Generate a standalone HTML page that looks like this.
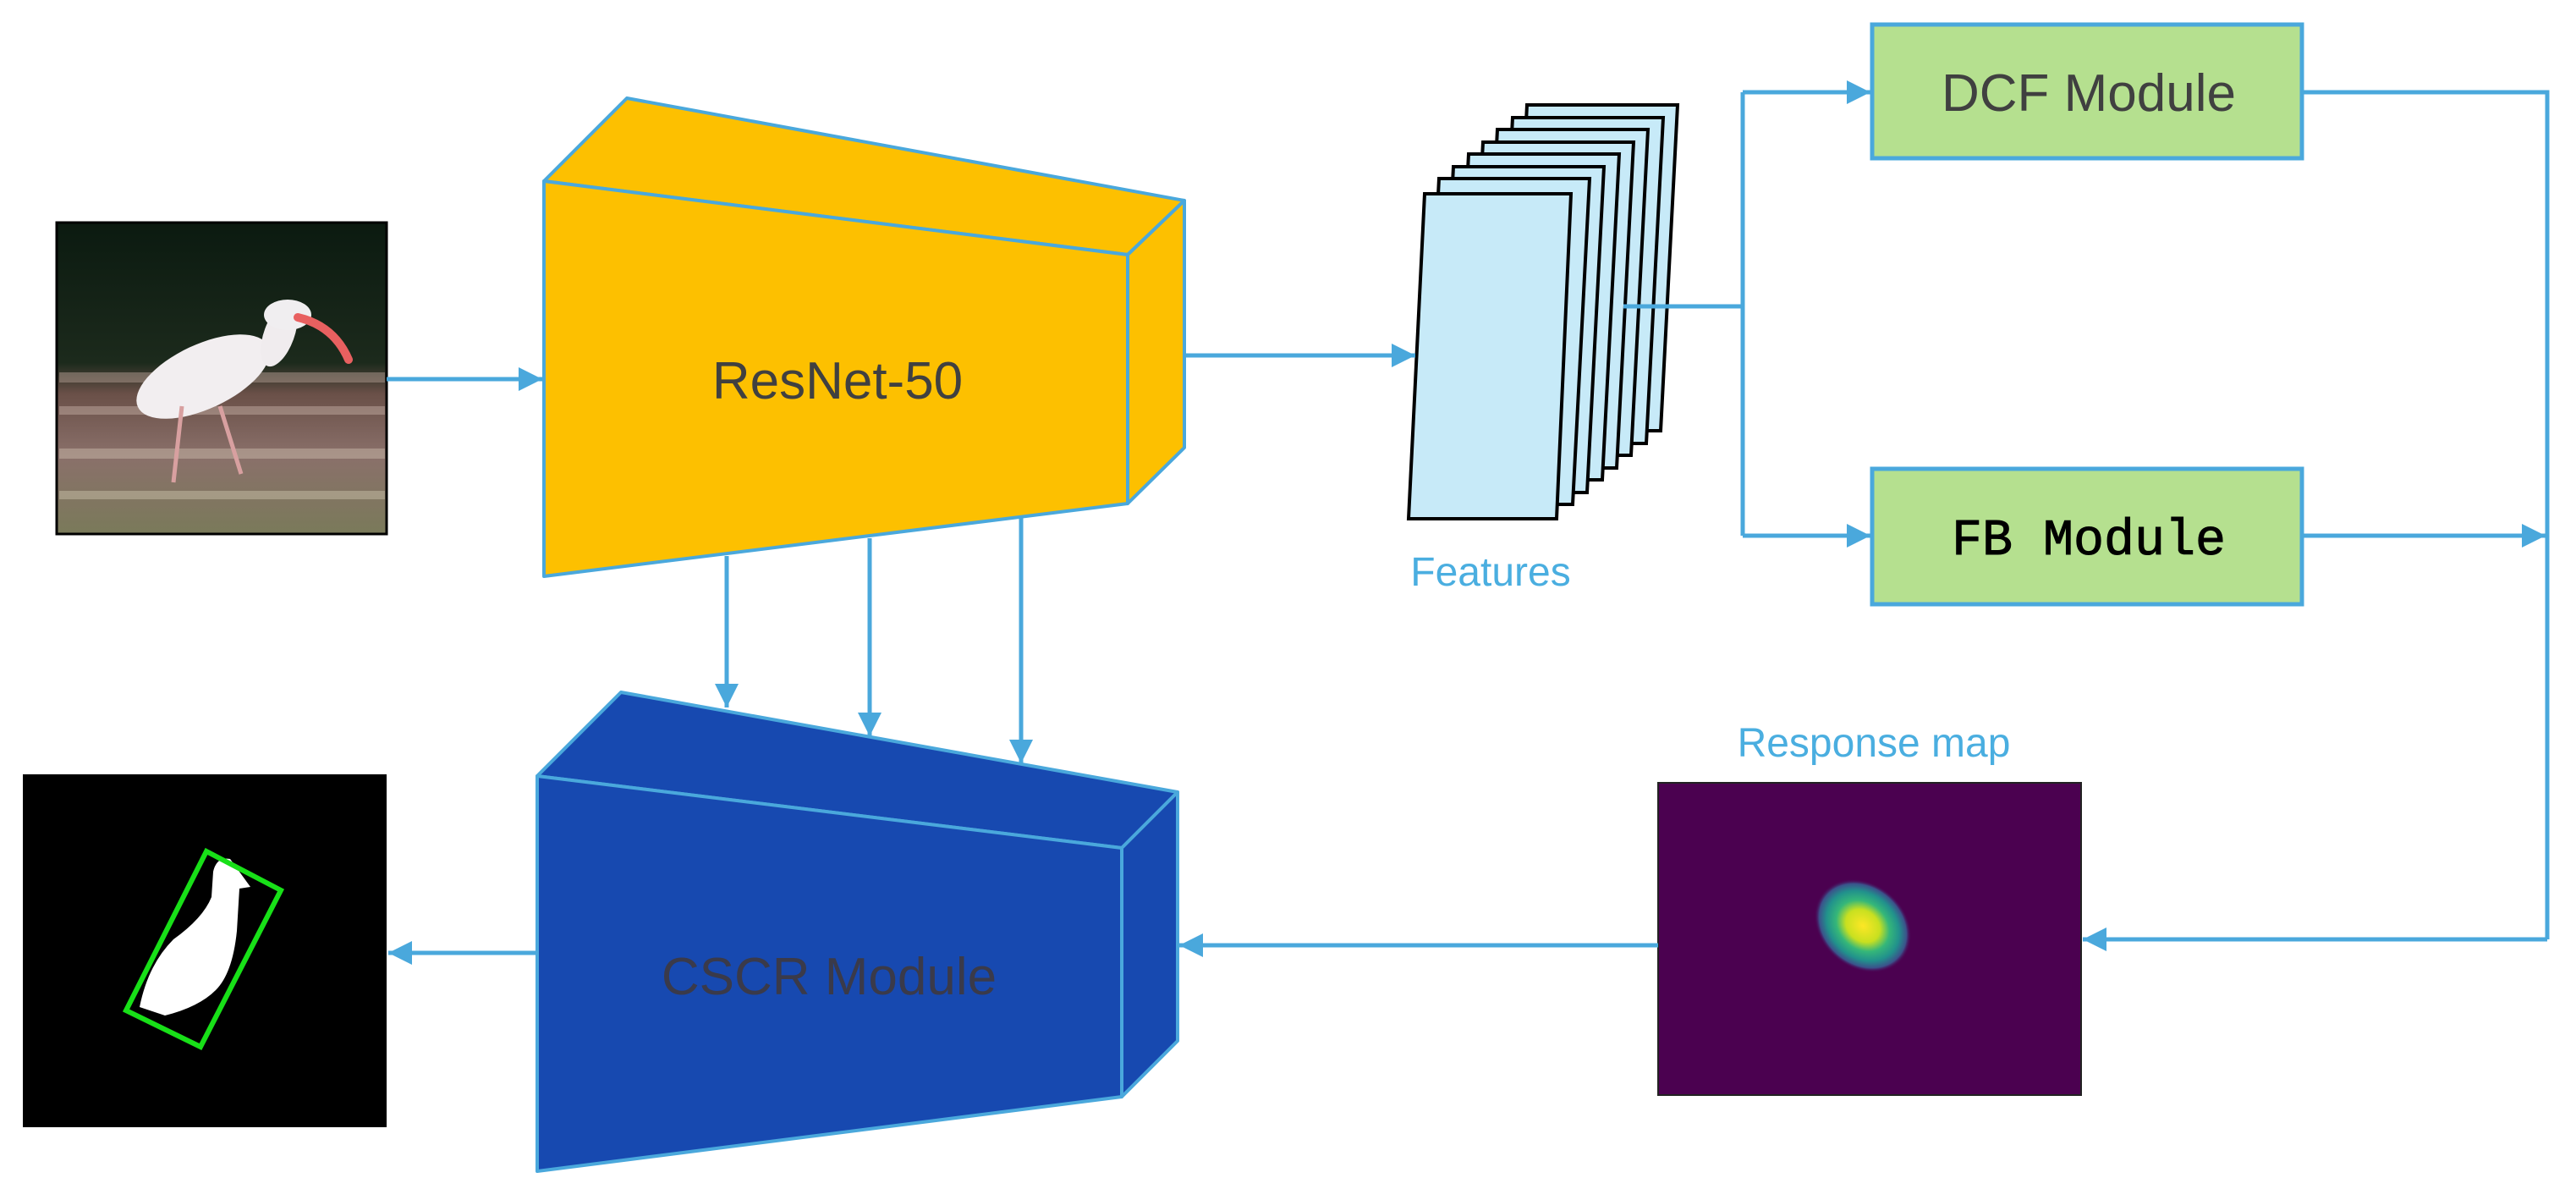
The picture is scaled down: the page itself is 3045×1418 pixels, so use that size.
<!DOCTYPE html>
<html><head><meta charset="utf-8"><style>
html,body{margin:0;padding:0;background:#fff;}
svg{display:block;}
</style></head><body>
<svg width="3045" height="1418" viewBox="0 0 3045 1418" xmlns="http://www.w3.org/2000/svg">
<defs>
<marker id="ah" viewBox="0 0 10 10" refX="10" refY="5" markerWidth="32" markerHeight="28" markerUnits="userSpaceOnUse" orient="auto"><path d="M0,0 L10,5 L0,10 z" fill="#4aa8dc"/></marker>
<radialGradient id="blob" cx="0.5" cy="0.5" r="0.5">
<stop offset="0" stop-color="#fde725"/><stop offset="0.35" stop-color="#c8e020"/><stop offset="0.55" stop-color="#35b779"/><stop offset="0.75" stop-color="#21918c"/><stop offset="0.9" stop-color="#3b528b"/><stop offset="1" stop-color="#4b0150" stop-opacity="0"/>
</radialGradient>
<linearGradient id="ground" x1="0" y1="0" x2="0" y2="1">
<stop offset="0" stop-color="#0b1a10"/><stop offset="0.45" stop-color="#1c2a1c"/><stop offset="0.55" stop-color="#6a5048"/><stop offset="0.75" stop-color="#8a706a"/><stop offset="1" stop-color="#7a7a5a"/>
</linearGradient>
</defs>

<!-- bird photo -->
<rect x="67" y="263" width="390" height="368" fill="url(#ground)" stroke="#000" stroke-width="3"/>
<g opacity="0.5">
<rect x="70" y="440" width="385" height="12" fill="#b09a90"/>
<rect x="70" y="480" width="385" height="10" fill="#c0aaa0"/>
<rect x="70" y="530" width="385" height="12" fill="#c8b8a8"/>
<rect x="70" y="580" width="385" height="10" fill="#c8c0a8"/>
</g>
<ellipse cx="240" cy="445" rx="85" ry="38" transform="rotate(-25 240 445)" fill="#f2eef0"/>
<ellipse cx="330" cy="395" rx="18" ry="40" transform="rotate(20 330 395)" fill="#f0ecee"/>
<ellipse cx="340" cy="372" rx="28" ry="18" fill="#f0eef0"/>
<path d="M352,375 Q395,385 412,425" stroke="#e86060" stroke-width="10" fill="none" stroke-linecap="round"/>
<path d="M215,480 L205,570 M260,480 L285,560" stroke="#d8a0a0" stroke-width="5"/>

<!-- mask output -->
<rect x="27" y="915" width="430" height="417" fill="#000"/>
<path d="M165,1190 Q175,1140 205,1110 Q240,1085 250,1060 L252,1030 Q256,1012 272,1015 L296,1048 L283,1050 L280,1100 Q275,1150 255,1170 Q235,1190 195,1200 Z" fill="#fff"/>
<polygon points="244,1006 332,1052 237,1237 149,1194" fill="none" stroke="#18e018" stroke-width="6"/>

<!-- ResNet -->
<g stroke="#4aa8dc" stroke-width="4" stroke-linejoin="round" fill="#fdc000">
<polygon points="643,214 741,116 1400,237 1333,301"/>
<polygon points="1333,301 1400,237 1400,529 1333,595"/>
<polygon points="643,214 1333,301 1333,595 643,681"/>
</g>
<text x="990" y="471" font-family="Liberation Sans, sans-serif" font-size="62" fill="#404040" text-anchor="middle">ResNet-50</text>

<!-- CSCR -->
<g stroke="#4aa8dc" stroke-width="4" stroke-linejoin="round" fill="#1749b0">
<polygon points="635,917 734,818 1392,936 1326,1002"/>
<polygon points="1326,1002 1392,936 1392,1230 1326,1296"/>
<polygon points="635,917 1326,1002 1326,1296 635,1384"/>
</g>
<text x="980" y="1175" font-family="Liberation Sans, sans-serif" font-size="62" fill="#3a3a4a" text-anchor="middle">CSCR Module</text>

<!-- features stack -->
<g stroke="#000" stroke-width="4" fill="#c7eaf8">
<polygon points="1805,124 1983,124 1963,509 1785,509"/>
<polygon points="1788,139 1966,139 1946,524 1768,524"/>
<polygon points="1770,153 1948,153 1928,538 1750,538"/>
<polygon points="1753,168 1931,168 1911,553 1733,553"/>
<polygon points="1736,182 1914,182 1894,567 1716,567"/>
<polygon points="1718,197 1896,197 1876,582 1698,582"/>
<polygon points="1701,211 1879,211 1859,596 1681,596"/>
<polygon points="1684,229 1857,229 1840,613 1665,613"/>
</g>
<text x="1762" y="692" font-family="Liberation Sans, sans-serif" font-size="48" fill="#4aaee0" text-anchor="middle">Features</text>

<!-- boxes -->
<rect x="2213" y="29" width="508" height="158" fill="#b5e08f" stroke="#4aa8dc" stroke-width="5"/>
<text x="2469" y="131" font-family="Liberation Sans, sans-serif" font-size="62" fill="#404040" text-anchor="middle">DCF Module</text>
<rect x="2213" y="554" width="508" height="160" fill="#b5e08f" stroke="#4aa8dc" stroke-width="5"/>
<text x="2469" y="655" font-family="Liberation Mono, monospace" font-size="60" fill="#000" text-anchor="middle" stroke="#000" stroke-width="1">FB Module</text>

<!-- response map -->
<text x="2215" y="894" font-family="Liberation Sans, sans-serif" font-size="48" fill="#4aaee0" text-anchor="middle">Response map</text>
<rect x="1960" y="925" width="500" height="369" fill="#4b0150" stroke="#222" stroke-width="2"/>
<ellipse cx="2202" cy="1094" rx="62" ry="50" transform="rotate(40 2202 1094)" fill="url(#blob)"/>

<!-- connectors -->
<g stroke="#4aa8dc" stroke-width="5" fill="none">
<line x1="457" y1="448" x2="641" y2="448" marker-end="url(#ah)"/>
<line x1="1400" y1="420" x2="1673" y2="420" marker-end="url(#ah)"/>
<line x1="859" y1="657" x2="859" y2="836" marker-end="url(#ah)"/>
<line x1="1028" y1="636" x2="1028" y2="870" marker-end="url(#ah)"/>
<line x1="1207" y1="612" x2="1207" y2="902" marker-end="url(#ah)"/>
<line x1="635" y1="1126" x2="459" y2="1126" marker-end="url(#ah)"/>
<line x1="1960" y1="1117" x2="1394" y2="1117" marker-end="url(#ah)"/>
<polyline points="1919,362 2060,362"/>
<polyline points="2060,109 2060,633"/>
<line x1="2060" y1="109" x2="2211" y2="109" marker-end="url(#ah)"/>
<line x1="2060" y1="633" x2="2211" y2="633" marker-end="url(#ah)"/>
<polyline points="2721,109 3011,109 3011,1110"/>
<line x1="2721" y1="633" x2="3009" y2="633" marker-end="url(#ah)"/>
<line x1="3011" y1="1110" x2="2462" y2="1110" marker-end="url(#ah)"/>
</g>
</svg>
</body></html>
